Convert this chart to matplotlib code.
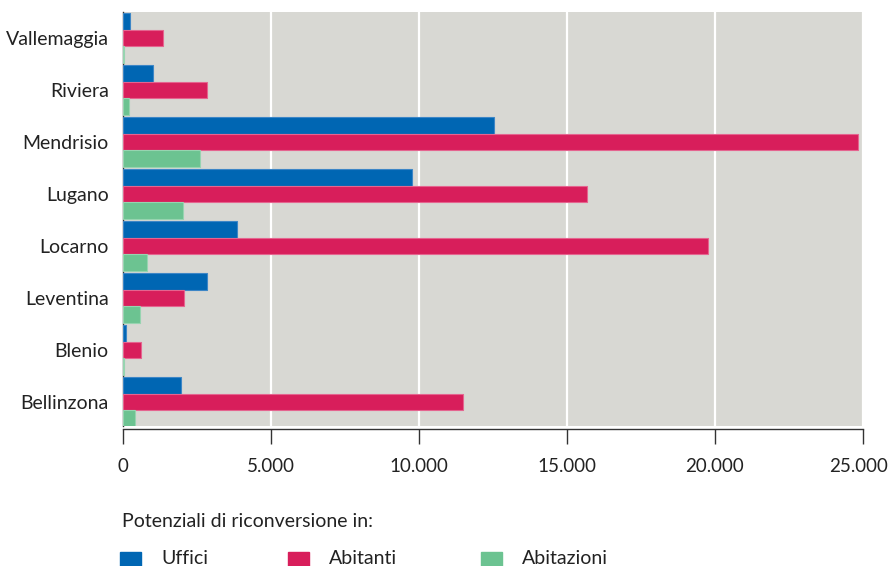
import numpy as np
import matplotlib
matplotlib.use("Agg")
import matplotlib.pyplot as plt
from matplotlib.patches import Rectangle
from matplotlib.transforms import ScaledTranslation

plt.rcParams['font.family'] = ['Lato', 'DejaVu Sans']

# regioni dal basso verso l'alto
regioni = ["Bellinzona", "Blenio", "Leventina", "Locarno",
           "Lugano", "Mendrisio", "Riviera", "Vallemaggia"]

uffici = [1970, 120, 2840, 3870, 9780, 12550, 1020, 260]
abitanti = [11490, 610, 2080, 19780, 15700, 24850, 2850, 1360]
abitazioni = [400, 40, 600, 810, 2050, 2610, 210, 55]

serie = ["Uffici", "Abitanti", "Abitazioni"]
colori = ["#0066b3", "#d81e5b", "#6cc391"]
bordi = ["#3d86c6", "#e5648f", "#97d4b0"]

xticks = [0, 5000, 10000, 15000, 20000, 25000]
xlabels = ["0", "5.000", "10.000", "15.000", "20.000", "25.000"]

fig = plt.figure(figsize=(8.88, 5.66), dpi=100)
ax = fig.add_axes([122.7 / 888, 1 - 426 / 566, (862.7 - 122.7) / 888, (426 - 12) / 566])
ax.set_facecolor("#d8d8d3")

# assi prima dei tick (set_position azzera le proprietà dei tick)
for s in ["top", "right"]:
    ax.spines[s].set_visible(False)
ax.spines["bottom"].set_position(("outward", 2))
for s in ["left", "bottom"]:
    ax.spines[s].set_color("#333333")
    ax.spines[s].set_linewidth(1)

y = np.arange(len(regioni))
h = 0.318
valori = [uffici, abitanti, abitazioni]
for i in range(3):
    ax.barh(y + (1 - i) * h, valori[i], height=h, color=colori[i],
            edgecolor=bordi[i], linewidth=0.8, zorder=3)

ax.set_xlim(0, 25000)
ax.set_ylim(-0.46, 7.5)
ax.set_yticks(y)
ax.set_yticklabels(regioni)
ax.set_xticks(xticks)
ax.set_xticklabels(xlabels)
ax.tick_params(axis="y", length=0, pad=10, labelsize=14, labelcolor="#222222")
ax.tick_params(axis="x", length=11, width=1, color="#333333", pad=10,
               direction="out", labelsize=13.5, labelcolor="#222222")
ax.grid(axis="x", color="white", linewidth=1.6, zorder=1)

# l'ultima etichetta un po' a sinistra per non uscire dal bordo
ultima = ax.get_xticklabels()[-1]
ultima.set_transform(ultima.get_transform() + ScaledTranslation(-4 / 100, 0, fig.dpi_scale_trans))

# legenda sotto il grafico
fig.text(122 / 888, 1 - 527 / 566, "Potenziali di riconversione in:",
         fontsize=14, color="#222222", va="baseline", ha="left")
pos_x = [120, 288, 481]
for nome, col, px in zip(serie, colori, pos_x):
    fig.patches.append(Rectangle((px / 888, 1 - 574 / 566), 21 / 888, 22 / 566,
                                 transform=fig.transFigure, color=col))
    fig.text((px + 41) / 888, 1 - 564.5 / 566, nome, fontsize=14,
             color="#222222", va="baseline", ha="left")

fig.savefig("out.png", dpi=100)
